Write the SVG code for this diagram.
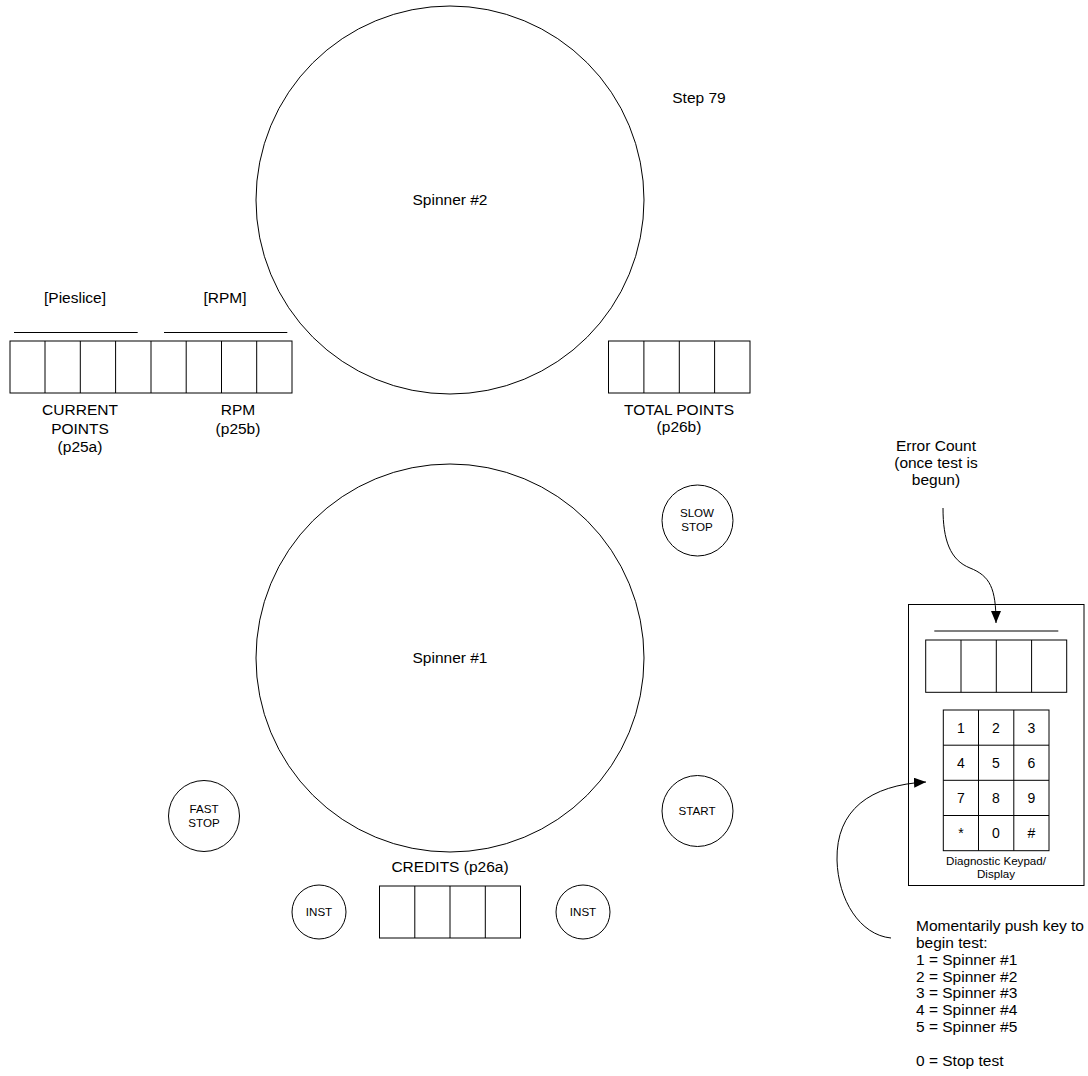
<svg xmlns="http://www.w3.org/2000/svg" width="1088" height="1076" viewBox="0 0 1088 1076">
<style>
text{font-family:"Liberation Sans",Arial,sans-serif;fill:#000;text-anchor:middle}
.t{font-size:15.5px}
.s{font-size:11.6px}
.k{font-size:14px}
.l{text-anchor:start}
.o{fill:none;stroke:#000;stroke-width:1}
.c{fill:#fff;stroke:#000;stroke-width:1}
</style>
<defs>
<marker id="ah" viewBox="0 0 12 10" refX="12" refY="5" markerWidth="12" markerHeight="10" markerUnits="userSpaceOnUse" orient="auto">
<path d="M0,0 L12,5 L0,10 Z" fill="#000"/>
</marker>
</defs>
<rect width="1088" height="1076" fill="#fff"/>

<g id="spinner2">
<circle class="o" cx="450" cy="200" r="194"/>
<text class="t" x="450" y="205">Spinner #2</text>
</g>
<text class="t" x="699" y="103">Step 79</text>

<g id="current-rpm-display">
<rect class="o" x="10" y="341" width="282" height="52"/>
<path class="o" d="M45,341V393M80.3,341V393M115.6,341V393M151,341V393M186.2,341V393M221.5,341V393M256.7,341V393"/>
<path class="o" d="M14,332.5H137.7M164,332.5H287.3"/>
<text class="t" x="75" y="303">[Pieslice]</text>
<text class="t" x="225" y="303">[RPM]</text>
<text class="t" x="80" y="415">CURRENT</text>
<text class="t" x="80" y="434">POINTS</text>
<text class="t" x="80" y="452">(p25a)</text>
<text class="t" x="238" y="415">RPM</text>
<text class="t" x="238" y="434">(p25b)</text>
</g>

<g id="total-points">
<rect class="o" x="608.5" y="341" width="141.5" height="52"/>
<path class="o" d="M643.9,341V393M679.3,341V393M714.6,341V393"/>
<text class="t" x="679" y="415">TOTAL POINTS</text>
<text class="t" x="679" y="432">(p26b)</text>
</g>

<g id="spinner1">
<circle class="o" cx="450" cy="658" r="194"/>
<text class="t" x="450" y="663">Spinner #1</text>
</g>

<g id="slow-stop">
<circle class="o" cx="697.5" cy="520.5" r="35.5"/>
<text class="s" x="697" y="517">SLOW</text>
<text class="s" x="697" y="531">STOP</text>
</g>

<g id="start">
<circle class="o" cx="697.5" cy="811" r="35.5"/>
<text class="s" x="697" y="815">START</text>
</g>

<g id="fast-stop">
<circle class="o" cx="204" cy="816" r="35.5"/>
<text class="s" x="204" y="813">FAST</text>
<text class="s" x="204" y="827">STOP</text>
</g>

<g id="inst-left">
<circle class="o" cx="319" cy="912" r="27"/>
<text class="s" x="319" y="916">INST</text>
</g>

<g id="inst-right">
<circle class="o" cx="583" cy="912" r="27"/>
<text class="s" x="583" y="916">INST</text>
</g>

<g id="credits">
<text class="t" x="450" y="872">CREDITS (p26a)</text>
<rect class="o" x="379.5" y="886" width="141" height="52"/>
<path class="o" d="M414.8,886V938M450,886V938M485.3,886V938"/>
</g>

<g id="keypad-display">
<rect class="o" x="908.5" y="604.5" width="175.5" height="281"/>
<path class="o" d="M934.3,631H1058.3"/>
<rect class="o" x="925.7" y="640" width="141" height="52.3"/>
<path class="o" d="M961,640V692.3M996.3,640V692.3M1031.6,640V692.3"/>
<rect class="o" x="943.3" y="710" width="105.7" height="140.7"/>
<path class="o" d="M978.5,710V850.7M1013.8,710V850.7M943.3,745.2H1049M943.3,780.3H1049M943.3,815.5H1049"/>
<text class="k" x="961" y="733">1</text>
<text class="k" x="996" y="733">2</text>
<text class="k" x="1031.5" y="733">3</text>
<text class="k" x="961" y="768">4</text>
<text class="k" x="996" y="768">5</text>
<text class="k" x="1031.5" y="768">6</text>
<text class="k" x="961" y="803">7</text>
<text class="k" x="996" y="803">8</text>
<text class="k" x="1031.5" y="803">9</text>
<text class="k" x="961" y="838">*</text>
<text class="k" x="996" y="838">0</text>
<text class="k" x="1031.5" y="838">#</text>
<text class="s" x="996" y="865">Diagnostic Keypad/</text>
<text class="s" x="996" y="878">Display</text>
</g>

<g id="error-count-label">
<text class="t" x="936" y="451">Error Count</text>
<text class="t" x="936" y="468">(once test is</text>
<text class="t" x="936" y="485">begun)</text>
</g>

<g id="instructions">
<text class="t l" x="916" y="931">Momentarily push key to</text>
<text class="t l" x="916" y="948">begin test:</text>
<text class="t l" x="916" y="965">1 = Spinner #1</text>
<text class="t l" x="916" y="981.5">2 = Spinner #2</text>
<text class="t l" x="916" y="998">3 = Spinner #3</text>
<text class="t l" x="916" y="1015">4 = Spinner #4</text>
<text class="t l" x="916" y="1032">5 = Spinner #5</text>
<text class="t l" x="916" y="1066">0 = Stop test</text>
</g>

<g id="connectors">
<path class="o" d="M943,508 C943,540 950,560 970,568 C990,576 996,588 996,623" marker-end="url(#ah)"/>
<path class="o" d="M891,938 C860,935 838,900 837,860 C836,810 870,785 926,782" marker-end="url(#ah)"/>
</g>
</svg>
